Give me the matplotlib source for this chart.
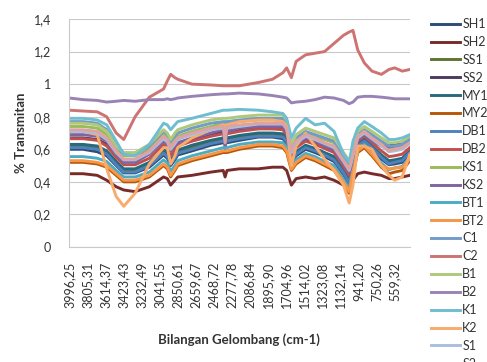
import matplotlib
matplotlib.use("Agg")
import matplotlib.pyplot as plt

plt.rcParams["font.family"] = ["Lato", "DejaVu Sans"]

W = [3996, 3850, 3700, 3600, 3500, 3420, 3300, 3150, 3000, 2960,
     2925, 2880, 2850, 2700, 2500, 2370, 2350, 2330, 2200, 2000,
     1850, 1740, 1700, 1650, 1600, 1500, 1400, 1300, 1200, 1100,
     1040, 1000, 950, 880, 800, 700, 620, 560, 480, 400]

SH1 = [0.60, 0.60, 0.585, 0.56, 0.50, 0.455, 0.455, 0.49, 0.565, 0.545,
       0.50, 0.535, 0.565, 0.59, 0.625, 0.64, 0.64, 0.64, 0.655, 0.675,
       0.675, 0.665, 0.635, 0.515, 0.56, 0.60, 0.58, 0.555, 0.525, 0.445,
       0.385, 0.495, 0.615, 0.645, 0.60, 0.54, 0.505, 0.51, 0.52, 0.57]
SH2 = [0.45, 0.45, 0.44, 0.41, 0.37, 0.35, 0.34, 0.37, 0.43, 0.42,
       0.38, 0.41, 0.43, 0.44, 0.46, 0.47, 0.43, 0.47, 0.48, 0.48,
       0.49, 0.49, 0.47, 0.38, 0.42, 0.43, 0.42, 0.43, 0.41, 0.38,
       0.38, 0.41, 0.45, 0.46, 0.45, 0.44, 0.42, 0.42, 0.43, 0.44]
SS1 = [0.62, 0.62, 0.61, 0.58, 0.515, 0.47, 0.47, 0.51, 0.59, 0.57,
       0.52, 0.56, 0.585, 0.615, 0.645, 0.66, 0.66, 0.66, 0.675, 0.69,
       0.69, 0.685, 0.655, 0.53, 0.58, 0.62, 0.60, 0.57, 0.545, 0.46,
       0.405, 0.51, 0.63, 0.66, 0.615, 0.56, 0.52, 0.53, 0.54, 0.585]
SS2 = [0.67, 0.67, 0.66, 0.63, 0.57, 0.57, 0.57, 0.59, 0.66, 0.64,
       0.60, 0.62, 0.64, 0.66, 0.69, 0.71, 0.71, 0.71, 0.72, 0.73,
       0.73, 0.73, 0.70, 0.56, 0.62, 0.66, 0.64, 0.61, 0.59, 0.50,
       0.45, 0.54, 0.67, 0.69, 0.66, 0.63, 0.62, 0.63, 0.63, 0.66]
MY1 = [0.63, 0.63, 0.62, 0.59, 0.525, 0.48, 0.48, 0.52, 0.60, 0.58,
       0.53, 0.57, 0.595, 0.625, 0.655, 0.67, 0.67, 0.67, 0.685, 0.70,
       0.70, 0.695, 0.665, 0.54, 0.585, 0.625, 0.605, 0.58, 0.555, 0.47,
       0.415, 0.52, 0.635, 0.665, 0.62, 0.565, 0.53, 0.535, 0.545, 0.59]
MY2 = [0.52, 0.52, 0.51, 0.49, 0.44, 0.40, 0.40, 0.43, 0.50, 0.48,
       0.43, 0.47, 0.50, 0.53, 0.56, 0.58, 0.58, 0.58, 0.60, 0.62,
       0.62, 0.61, 0.58, 0.47, 0.51, 0.55, 0.53, 0.50, 0.47, 0.39,
       0.33, 0.45, 0.58, 0.61, 0.56, 0.49, 0.45, 0.46, 0.47, 0.53]
DB1 = [0.61, 0.61, 0.60, 0.57, 0.505, 0.46, 0.46, 0.50, 0.575, 0.555,
       0.51, 0.545, 0.575, 0.60, 0.635, 0.65, 0.65, 0.65, 0.665, 0.68,
       0.68, 0.675, 0.645, 0.52, 0.57, 0.61, 0.59, 0.565, 0.535, 0.455,
       0.395, 0.50, 0.62, 0.65, 0.61, 0.55, 0.51, 0.52, 0.53, 0.58]
DB2 = [0.665, 0.665, 0.655, 0.62, 0.55, 0.505, 0.505, 0.545, 0.63, 0.61,
       0.56, 0.60, 0.62, 0.65, 0.68, 0.695, 0.695, 0.695, 0.71, 0.725,
       0.725, 0.72, 0.69, 0.56, 0.61, 0.65, 0.63, 0.605, 0.58, 0.495,
       0.44, 0.535, 0.65, 0.68, 0.64, 0.59, 0.555, 0.56, 0.57, 0.61]
KS1 = [0.74, 0.74, 0.73, 0.69, 0.61, 0.56, 0.56, 0.61, 0.69, 0.67,
       0.63, 0.66, 0.68, 0.71, 0.74, 0.76, 0.76, 0.76, 0.77, 0.78,
       0.78, 0.78, 0.75, 0.60, 0.66, 0.70, 0.68, 0.66, 0.64, 0.55,
       0.50, 0.58, 0.69, 0.72, 0.68, 0.64, 0.61, 0.61, 0.62, 0.65]
KS2 = [0.69, 0.69, 0.68, 0.65, 0.57, 0.52, 0.52, 0.57, 0.65, 0.63,
       0.59, 0.62, 0.64, 0.67, 0.70, 0.72, 0.60, 0.71, 0.73, 0.74,
       0.74, 0.74, 0.71, 0.57, 0.63, 0.67, 0.65, 0.62, 0.60, 0.51,
       0.46, 0.55, 0.66, 0.69, 0.65, 0.62, 0.615, 0.62, 0.63, 0.665]
BT1 = [0.555, 0.555, 0.545, 0.525, 0.47, 0.43, 0.43, 0.46, 0.535, 0.515,
       0.465, 0.50, 0.53, 0.56, 0.59, 0.61, 0.61, 0.61, 0.63, 0.645,
       0.645, 0.64, 0.61, 0.49, 0.535, 0.575, 0.555, 0.525, 0.50, 0.415,
       0.36, 0.47, 0.60, 0.63, 0.58, 0.515, 0.475, 0.485, 0.495, 0.55]
BT2 = [0.53, 0.53, 0.52, 0.50, 0.45, 0.41, 0.41, 0.44, 0.51, 0.49,
       0.44, 0.48, 0.51, 0.54, 0.57, 0.59, 0.59, 0.59, 0.61, 0.63,
       0.63, 0.62, 0.59, 0.477, 0.52, 0.56, 0.54, 0.51, 0.48, 0.40,
       0.34, 0.46, 0.59, 0.62, 0.57, 0.50, 0.48, 0.485, 0.49, 0.54]
C1 = [0.77, 0.77, 0.76, 0.72, 0.62, 0.57, 0.57, 0.62, 0.71, 0.69,
      0.65, 0.68, 0.70, 0.73, 0.76, 0.77, 0.77, 0.77, 0.78, 0.79,
      0.79, 0.79, 0.76, 0.61, 0.67, 0.71, 0.69, 0.67, 0.65, 0.56,
      0.51, 0.59, 0.69, 0.72, 0.69, 0.65, 0.62, 0.62, 0.63, 0.66]
C2 = [0.84, 0.835, 0.83, 0.80, 0.70, 0.66, 0.80, 0.92, 0.97, 1.02,
      1.06, 1.04, 1.03, 1.00, 0.995, 0.99, 0.99, 0.99, 0.99, 1.01,
      1.03, 1.07, 1.10, 1.04, 1.14, 1.18, 1.19, 1.20, 1.25, 1.30,
      1.32, 1.33, 1.21, 1.13, 1.08, 1.06, 1.09, 1.10, 1.08, 1.09]
B1 = [0.76, 0.76, 0.75, 0.71, 0.62, 0.58, 0.58, 0.63, 0.72, 0.70,
      0.66, 0.70, 0.72, 0.75, 0.78, 0.79, 0.79, 0.79, 0.80, 0.81,
      0.81, 0.81, 0.78, 0.63, 0.69, 0.73, 0.71, 0.69, 0.67, 0.58,
      0.53, 0.61, 0.71, 0.74, 0.71, 0.67, 0.64, 0.64, 0.65, 0.68]
B2 = [0.915, 0.905, 0.90, 0.89, 0.895, 0.90, 0.895, 0.905, 0.905, 0.91,
      0.905, 0.91, 0.915, 0.925, 0.935, 0.94, 0.94, 0.94, 0.945, 0.94,
      0.93, 0.92, 0.915, 0.885, 0.89, 0.895, 0.905, 0.92, 0.915, 0.90,
      0.88, 0.89, 0.92, 0.925, 0.925, 0.92, 0.915, 0.91, 0.91, 0.91]
K1 = [0.79, 0.79, 0.78, 0.75, 0.65, 0.57, 0.56, 0.63, 0.76, 0.75,
      0.72, 0.75, 0.77, 0.79, 0.82, 0.84, 0.84, 0.84, 0.845, 0.84,
      0.83, 0.82, 0.79, 0.67, 0.73, 0.79, 0.75, 0.76, 0.71, 0.57,
      0.52, 0.65, 0.73, 0.77, 0.74, 0.70, 0.66, 0.66, 0.67, 0.69]
K2 = [0.71, 0.71, 0.69, 0.48, 0.31, 0.25, 0.33, 0.51, 0.61, 0.61,
      0.51, 0.56, 0.61, 0.67, 0.72, 0.75, 0.74, 0.75, 0.77, 0.78,
      0.78, 0.77, 0.74, 0.50, 0.62, 0.70, 0.62, 0.54, 0.47, 0.38,
      0.27, 0.38, 0.62, 0.62, 0.60, 0.50, 0.44, 0.41, 0.43, 0.57]
S1 = [0.71, 0.71, 0.70, 0.66, 0.58, 0.535, 0.535, 0.58, 0.665, 0.645,
      0.60, 0.635, 0.66, 0.69, 0.72, 0.73, 0.73, 0.73, 0.74, 0.755,
      0.755, 0.755, 0.725, 0.58, 0.64, 0.68, 0.66, 0.635, 0.61, 0.525,
      0.47, 0.56, 0.67, 0.70, 0.665, 0.62, 0.585, 0.59, 0.60, 0.635]
S2 = [0.72, 0.72, 0.71, 0.67, 0.59, 0.54, 0.54, 0.59, 0.68, 0.66,
      0.61, 0.65, 0.67, 0.70, 0.73, 0.74, 0.64, 0.74, 0.75, 0.76,
      0.76, 0.76, 0.73, 0.59, 0.65, 0.69, 0.67, 0.64, 0.62, 0.53,
      0.48, 0.57, 0.68, 0.71, 0.67, 0.63, 0.59, 0.60, 0.61, 0.64]

SERIES = [("SH1", SH1), ("SH2", SH2), ("SS1", SS1), ("SS2", SS2),
          ("MY1", MY1), ("MY2", MY2), ("DB1", DB1), ("DB2", DB2),
          ("KS1", KS1), ("KS2", KS2), ("BT1", BT1), ("BT2", BT2),
          ("C1", C1), ("C2", C2), ("B1", B1), ("B2", B2),
          ("K1", K1), ("K2", K2), ("S1", S1), ("S2", S2)]

# Excel-ish palette, in series order
COLORS = ["#2C4D75", "#772C2A", "#5F7530", "#4D3B62", "#276A7C", "#B65708",
          "#4F81BD", "#C0504D", "#9BBB59", "#8064A2", "#4BACC6", "#F79646",
          "#729ACA", "#CD7371", "#AFC97A", "#9983B5", "#6FBDD1", "#F9AB6B",
          "#A9BFDD", "#DDA3A2"]

X_TICK_LABELS = ["3996,25", "3805,31", "3614,37", "3423,43", "3232,49",
                 "3041,55", "2850,61", "2659,67", "2468,72", "2277,78",
                 "2086,84", "1895,90", "1704,96", "1514,02", "1323,08",
                 "1132,14", "941,20", "750,26", "559,32"]
Y_TICKS = [0, 0.2, 0.4, 0.6, 0.8, 1.0, 1.2, 1.4]
Y_TICK_LABELS = ["0", "0,2", "0,4", "0,6", "0,8", "1", "1,2", "1,4"]

TEXT = "#333333"
GRID = "#C9C9C9"

fig = plt.figure(figsize=(4.87, 3.62), dpi=100)
ax = fig.add_axes([69 / 487, 1 - 247 / 362, 341 / 487, 228 / 362])

for (name, vals), col in zip(SERIES, COLORS):
    ax.plot(W, vals, color=col, lw=2.1, label=name, solid_joinstyle="round")

ax.set_xlim(3998, 398)
ax.set_ylim(0, 1.4)
ax.set_yticks(Y_TICKS)
ax.set_yticklabels(Y_TICK_LABELS)
ax.set_xticks([float(s.replace(",", ".")) for s in X_TICK_LABELS])
ax.set_xticklabels(X_TICK_LABELS, rotation=90)
ax.tick_params(axis="both", length=0, labelsize=9, colors=TEXT)
ax.tick_params(axis="x", pad=10.5)
ax.tick_params(axis="y", pad=13)

ax.grid(axis="y", color=GRID, lw=0.8)
ax.set_axisbelow(True)
for side in ("top", "right"):
    ax.spines[side].set_visible(False)
for side in ("left", "bottom"):
    ax.spines[side].set_color(GRID)
    ax.spines[side].set_linewidth(0.8)

fig.text(239 / 487, 1 - 340 / 362, "Bilangan Gelombang (cm-1)",
         ha="center", va="center", fontsize=9.5, fontweight="bold", color=TEXT)
fig.text(21 / 487, 1 - 133 / 362, "% Transmitan", rotation=90,
         ha="center", va="center", fontsize=9.5, fontweight="bold", color=TEXT)

fig.legend(loc="upper left", bbox_to_anchor=(431 / 487, 1 - 18 / 362),
           frameon=False, fontsize=9, handlelength=2.3, handletextpad=0.2,
           labelspacing=0.47, borderpad=0, borderaxespad=0, labelcolor=TEXT)

fig.savefig("out.png", dpi=100)
